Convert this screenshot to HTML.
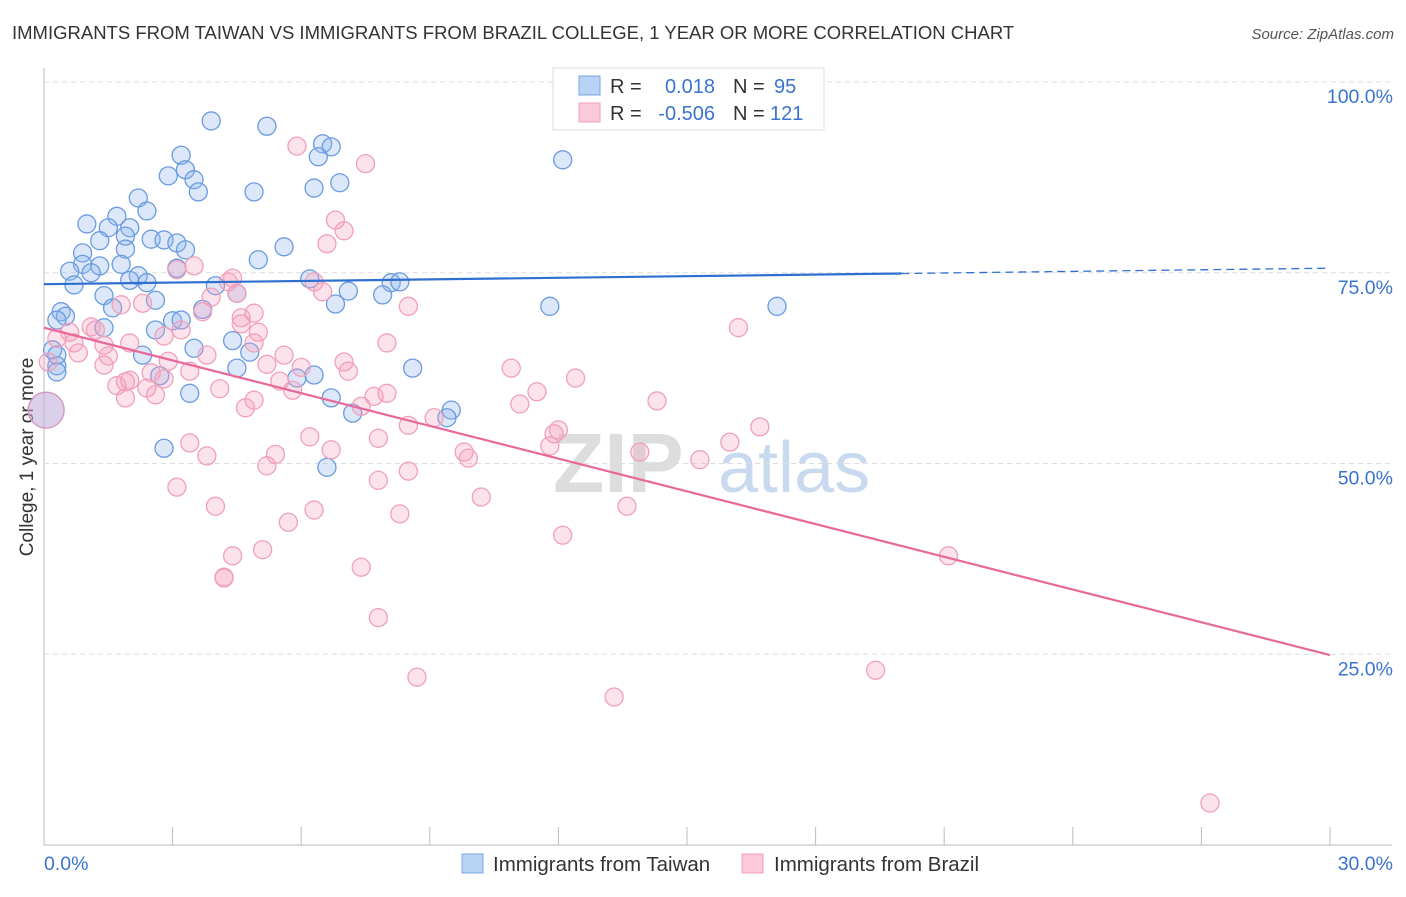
<!DOCTYPE html>
<html><head><meta charset="utf-8"><style>
body{margin:0;background:#fff;font-family:"Liberation Sans",sans-serif;}
svg text{font-family:"Liberation Sans",sans-serif;}
</style></head><body>
<svg id="chart" width="1406" height="892" viewBox="0 0 1406 892">
<text x="12" y="39" font-size="18.5" fill="#333">IMMIGRANTS FROM TAIWAN VS IMMIGRANTS FROM BRAZIL COLLEGE, 1 YEAR OR MORE CORRELATION CHART</text>
<text x="1394" y="39" font-size="15" fill="#555" text-anchor="end" font-style="italic">Source: ZipAtlas.com</text>
<text x="33" y="457" font-size="19" fill="#333" text-anchor="middle" transform="rotate(-90 33 457)">College, 1 year or more</text>
<g><text x="553" y="492" font-size="84" fill="#ddd" font-family="Liberation Serif" font-weight="bold">ZIP</text><text x="718" y="492" font-size="72" fill="#c9daf0">atlas</text></g>
<g id="grid"></g><g id="pts"></g><g id="lines"></g>
<g>
<rect x="553" y="68" width="271" height="62" fill="#fff" stroke="#ddd"/>
<rect x="579" y="76" width="21" height="19" fill="#b9d3f5" stroke="#7aa6e3"/>
<rect x="579" y="103" width="21" height="19" fill="#fbc9d8" stroke="#efa0ba"/>
<text x="610" y="93" font-size="20" fill="#333">R =</text><text x="715" y="93" font-size="20" fill="#3a74d0" text-anchor="end">0.018</text>
<text x="733" y="93" font-size="20" fill="#333">N =</text><text x="774" y="93" font-size="20" fill="#3a74d0">95</text>
<text x="610" y="120" font-size="20" fill="#333">R =</text><text x="715" y="120" font-size="20" fill="#3a74d0" text-anchor="end">-0.506</text>
<text x="733" y="120" font-size="20" fill="#333">N =</text><text x="770" y="120" font-size="20" fill="#3a74d0">121</text>
</g>
<g>
<rect x="462" y="854" width="21" height="19" fill="#b9d3f5" stroke="#7aa6e3"/>
<text x="493" y="871" font-size="20.5" fill="#333">Immigrants from Taiwan</text>
<rect x="742" y="854" width="21" height="19" fill="#fbc9d8" stroke="#efa0ba"/>
<text x="774" y="871" font-size="20.5" fill="#333">Immigrants from Brazil</text>
</g>
</svg>
<script>
const yTicks=[100,75,50,25];
const yTickLabels=["100.0%","75.0%","50.0%","25.0%"];
const xTickLabels=["0.0%","30.0%"];
const taiwanX=[3.9,5.2,3.2,6.5,6.7,6.4,12.1,2.9,3.3,3.5,3.6,4.9,6.3,6.9,2.2,2.4,1.0,1.7,1.5,2.0,1.3,1.9,2.5,2.8,3.1,3.3,1.9,0.9,1.8,5.6,5.0,0.9,1.3,0.6,1.1,2.2,2.4,2.0,0.7,3.1,4.0,4.5,6.2,8.1,8.3,7.9,7.1,6.8,11.8,17.1,1.4,2.6,1.6,0.4,0.5,0.3,3.7,3.0,3.2,1.4,2.6,0.2,0.3,0.3,2.3,3.5,4.4,4.8,2.7,4.5,3.4,5.9,6.3,8.6,6.7,7.2,9.5,9.4,2.8,6.6,0.3];
const taiwanY=[94.9,94.2,90.4,91.9,91.5,90.2,89.8,87.7,88.5,87.2,85.6,85.6,86.1,86.8,84.8,83.1,81.4,82.4,80.9,80.9,79.2,79.8,79.4,79.3,78.9,78.0,78.1,77.6,76.1,78.4,76.7,76.1,75.9,75.2,75.0,74.6,73.7,74.0,73.4,75.6,73.3,72.3,74.2,73.7,73.8,72.1,72.6,70.9,70.6,70.6,72.0,71.4,70.4,69.9,69.3,68.8,70.2,68.7,68.8,67.8,67.5,64.9,62.8,62.0,64.2,65.1,66.1,64.6,61.5,62.5,59.2,61.2,61.6,62.5,58.6,56.6,57.0,56.0,52.0,49.5,64.2];
const brazilX=[5.9,7.5,6.8,7.0,6.6,3.5,3.1,4.4,4.3,3.9,4.5,6.3,6.5,3.7,4.9,4.6,4.6,2.3,1.8,8.5,0.6,0.3,0.7,1.1,1.2,1.4,0.8,1.5,2.0,2.8,3.2,3.8,5.0,4.9,8.0,5.6,7.0,7.1,1.4,1.9,1.7,2.0,2.5,2.8,2.9,3.4,2.4,2.6,1.9,4.1,5.2,5.5,5.8,6.0,7.7,8.0,7.4,9.1,11.1,11.5,10.9,12.4,14.3,16.2,4.7,4.9,6.2,6.7,7.8,8.5,11.8,11.9,12.0,13.9,15.3,16.0,16.7,3.4,3.8,5.2,5.4,9.8,9.9,3.1,4.0,7.8,8.5,10.2,6.3,8.3,13.6,5.7,12.1,4.4,5.1,4.2,4.2,7.4,7.8,8.7,13.3,19.4,21.1,27.2,0.1];
const brazilY=[91.6,89.3,81.9,80.5,78.8,75.9,75.4,74.3,73.8,71.8,72.3,73.8,72.5,69.9,69.7,69.1,68.3,71.0,70.8,70.6,67.2,66.4,65.8,67.9,67.5,65.5,64.5,64.1,65.8,66.7,67.5,64.2,67.2,65.8,65.8,64.2,63.3,62.1,62.9,60.7,60.2,60.9,61.9,61.1,63.4,62.1,59.9,59.0,58.6,59.8,63.0,60.8,59.6,62.6,58.8,59.2,57.5,56.0,57.8,59.4,62.5,61.2,58.2,67.8,57.3,58.3,53.5,51.8,53.3,55.0,52.3,53.9,54.4,51.5,50.5,52.8,54.8,52.7,51.0,49.7,51.2,51.5,50.7,46.9,44.4,47.8,49.0,45.6,43.9,43.4,44.4,42.3,40.6,37.9,38.7,35.0,35.1,36.4,29.8,22.0,19.4,22.9,37.9,5.5,63.3];
const bigPointX=[0.05];
const bigPointY=[57.0];
const taiwanTrend=[73.5,75.6];
const brazilTrend=[67.8,24.9];
const NS="http://www.w3.org/2000/svg";
const X0=44,X1=1330,YT=82,YB=845;
const sx=v=>X0+v/30*(X1-X0);
const sy=v=>YB-v/100*(YB-YT);
function mk(tag,attrs,parent){const e=document.createElementNS(NS,tag);for(const k in attrs)e.setAttribute(k,attrs[k]);parent.appendChild(e);return e;}
const grid=document.getElementById('grid');
mk('line',{x1:44,y1:68,x2:44,y2:845,stroke:'#bbb'},grid);
mk('line',{x1:44,y1:845,x2:1392,y2:845,stroke:'#bbb'},grid);
yTicks.forEach((t,i)=>{
 const l=mk('line',{x1:44,y1:sy(t),x2:1392,y2:sy(t),stroke:'#ddd','stroke-dasharray':'5,4'},grid);
 
 
 const tx=mk('text',{x:1393,y:sy(t)+21,'font-size':19.5,fill:'#3a74d0','text-anchor':'end'},grid);
 tx.textContent=yTickLabels[i];
 
 
});
for(let i=0;i<=10;i++){
 const x=sx(i*3);
 const t=mk('line',{x1:x,y1:827,x2:x,y2:845,stroke:'#bbb'},grid);
 
 
}
[[0,'start',44],[30,'end',1393]].forEach((d,i)=>{
 const tx=mk('text',{x:d[2],y:870,'font-size':19.5,fill:'#3a74d0','text-anchor':d[1]},grid);
 tx.textContent=xTickLabels[i];
 
 
});
const pts=document.getElementById('pts');
taiwanX.forEach((v,i)=>{
 const c=mk('circle',{cx:sx(v),cy:sy(taiwanY[i]),r:9,fill:'rgba(140,180,235,0.3)',stroke:'#6a9be0','stroke-width':1.3},pts);
 
 
});
brazilX.forEach((v,i)=>{
 const c=mk('circle',{cx:sx(v),cy:sy(brazilY[i]),r:9,fill:'rgba(245,160,190,0.3)',stroke:'#f0a0ba','stroke-width':1.3},pts);
 
 
});
bigPointX.forEach((v,i)=>{
 const c=mk('circle',{cx:sx(v),cy:sy(bigPointY[i]),r:18,fill:'rgba(190,170,220,0.55)',stroke:'#d595b8','stroke-width':1.3},pts);
 
 
});
const lines=document.getElementById('lines');
const tw=v=>taiwanTrend[0]+(taiwanTrend[1]-taiwanTrend[0])*v/30;
let l=mk('line',{x1:sx(0),y1:sy(tw(0)),x2:sx(20),y2:sy(tw(20)),stroke:'#2f6fd0','stroke-width':2.2},lines);


l=mk('line',{x1:sx(20),y1:sy(tw(20)),x2:sx(30),y2:sy(tw(30)),stroke:'#2f6fd0','stroke-width':1.3,'stroke-dasharray':'8,5'},lines);


l=mk('line',{x1:sx(0),y1:sy(brazilTrend[0]),x2:sx(30),y2:sy(brazilTrend[1]),stroke:'#e8689a','stroke-width':2.2},lines);


</script>
</body></html>
